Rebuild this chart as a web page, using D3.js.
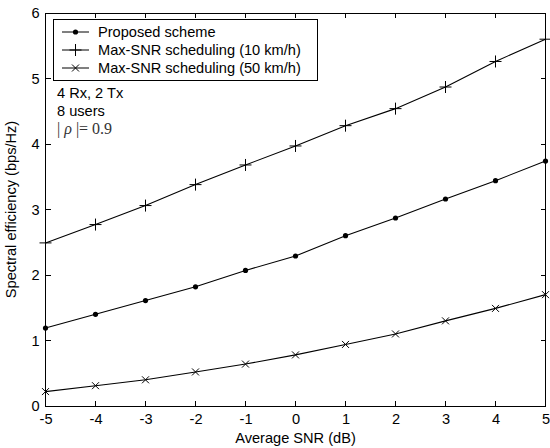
<!DOCTYPE html>
<html><head><meta charset="utf-8">
<script src="https://cdn.jsdelivr.net/npm/d3@7"></script>
<style>body{margin:0;background:#fff;} svg{display:block;}</style>
</head><body>
<svg id="chart" width="550" height="448"></svg>
<script>
const snr = [-5,-4,-3,-2,-1,0,1,2,3,4,5];
const proposed = [1.19,1.40,1.61,1.82,2.07,2.29,2.60,2.87,3.16,3.44,3.74];
const maxsnr10 = [2.49,2.77,3.06,3.38,3.68,3.97,4.28,4.54,4.87,5.26,5.60];
const maxsnr50 = [0.22,0.31,0.40,0.52,0.64,0.78,0.94,1.10,1.30,1.49,1.70];
const seriesNames = ["Proposed scheme","Max-SNR scheduling (10 km/h)","Max-SNR scheduling (50 km/h)"];
const xTicks = [-5,-4,-3,-2,-1,0,1,2,3,4,5];
const yTicks = [0,1,2,3,4,5,6];

const svg = d3.select("#chart");
const L=45.5, R=545.5, T=13, B=406;
const x = d3.scaleLinear().domain([-5,5]).range([L,R]);
const y = d3.scaleLinear().domain([0,6]).range([B,T]);
const font = "Liberation Sans, Arial, sans-serif";
const fs = 14.6;

// ticks inward on all sides
const tl = 5;
const g = svg.append("g").attr("stroke","#000").attr("stroke-width",1).attr("shape-rendering","crispEdges");
xTicks.forEach(t=>{
  g.append("line").attr("x1",x(t)).attr("x2",x(t)).attr("y1",B).attr("y2",B-tl);
  g.append("line").attr("x1",x(t)).attr("x2",x(t)).attr("y1",T).attr("y2",T+tl);
});
yTicks.forEach(t=>{
  g.append("line").attr("x1",L).attr("x2",L+tl).attr("y1",y(t)).attr("y2",y(t));
  g.append("line").attr("x1",R).attr("x2",R-tl).attr("y1",y(t)).attr("y2",y(t));
});
g.append("rect").attr("x",L).attr("y",T).attr("width",R-L).attr("height",B-T).attr("fill","none");

// tick labels
const xAxis = d3.axisBottom(x).tickValues(xTicks).tickSize(0).tickPadding(8).tickFormat(d=>String(d));
const xa = svg.append("g").attr("transform",`translate(0,${B})`).call(xAxis);
xa.select(".domain").remove();
xa.selectAll("text").attr("font-family",font).attr("font-size",fs).attr("fill","#000");
const yAxis = d3.axisLeft(y).tickValues(yTicks).tickSize(0).tickPadding(6).tickFormat(d=>String(d));
const ya = svg.append("g").attr("transform",`translate(${L},0)`).call(yAxis);
ya.select(".domain").remove();
ya.selectAll("text").attr("font-family",font).attr("font-size",fs).attr("fill","#000");

// axis labels
svg.append("text").attr("x",(L+R)/2).attr("y",443).attr("text-anchor","middle")
  .attr("font-family",font).attr("font-size",fs).text("Average SNR (dB)");
svg.append("text").attr("transform",`translate(16,${(T+B)/2}) rotate(-90)`).attr("text-anchor","middle")
  .attr("font-family",font).attr("font-size",fs).text("Spectral efficiency (bps/Hz)");

const line = d3.line().x((d,i)=>x(snr[i])).y(d=>y(d));
const data = [proposed, maxsnr10, maxsnr50];
const markers = ["dot","plus","cross"];

function drawMarker(sel, type, cx, cy){
  if(type==="dot"){
    sel.append("circle").attr("cx",cx).attr("cy",cy).attr("r",2.6).attr("fill","#000");
  } else if(type==="plus"){
    const s=6;
    sel.append("path").attr("d",`M${cx-s},${cy}H${cx+s}M${cx},${cy-s}V${cy+s}`).attr("stroke","#000").attr("stroke-width",1).attr("fill","none");
  } else {
    const s=3.5;
    sel.append("path").attr("d",`M${cx-s},${cy-s}L${cx+s},${cy+s}M${cx-s},${cy+s}L${cx+s},${cy-s}`).attr("stroke","#000").attr("stroke-width",1).attr("fill","none");
  }
}

const plot = svg.append("g");
data.forEach((arr,k)=>{
  plot.append("path").datum(arr).attr("d",line).attr("fill","none").attr("stroke","#000").attr("stroke-width",1.1);
  arr.forEach((v,i)=>drawMarker(plot, markers[k], x(snr[i]), y(v)));
});

// legend
const lg = svg.append("g");
lg.append("rect").attr("x",53).attr("y",19.5).attr("width",264).attr("height",61).attr("fill","#fff").attr("stroke","#000").attr("shape-rendering","crispEdges");
seriesNames.forEach((n,i)=>{
  const cy = 32 + i*18;
  lg.append("line").attr("x1",62).attr("x2",89).attr("y1",cy).attr("y2",cy).attr("stroke","#000");
  drawMarker(lg, markers[i], 75.5, cy);
  lg.append("text").attr("x",98).attr("y",cy+5).attr("font-family",font).attr("font-size",fs).text(n);
});

// annotations
svg.append("text").attr("x",57).attr("y",98).attr("font-family",font).attr("font-size",fs).text("4 Rx, 2 Tx");
svg.append("text").attr("x",57).attr("y",116).attr("font-family",font).attr("font-size",fs).text("8 users");
const rho = svg.append("text").attr("x",57).attr("y",134).attr("font-family","Liberation Serif, Times New Roman, serif").attr("font-size",16).attr("fill","#333");
rho.append("tspan").text("| ");
rho.append("tspan").attr("font-style","italic").text("ρ");
rho.append("tspan").text(" |= 0.9");
</script>
</body></html>
